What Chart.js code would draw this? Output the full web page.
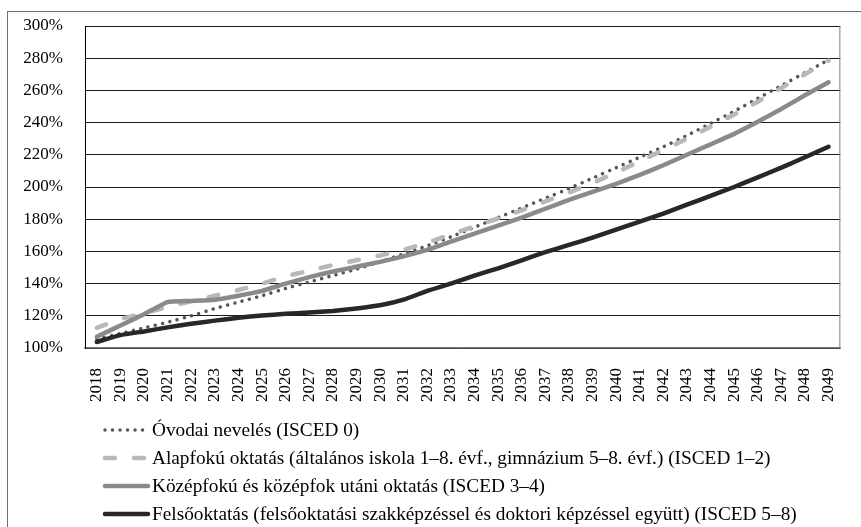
<!DOCTYPE html>
<html>
<head>
<meta charset="utf-8">
<script src="https://cdn.jsdelivr.net/npm/chart.js@4.4.0/dist/chart.umd.min.js"></script>
<style>
    body { margin: 0; width: 861px; height: 527px; overflow: hidden; background: #fff; position: relative; }
    #frame { position: absolute; left: 7px; top: 11px; width: 900px; height: 600px; border: 1px solid #6e6e6e; }
    #chart { position: absolute; left: 0; top: 0; }
    #legend { position: absolute; left: 102px; top: 416px; font-family: 'Liberation Serif', serif; font-size: 19.3px; color: #000; }
    .row { height: 28px; display: flex; align-items: center; white-space: nowrap; }
    .row svg { width: 50px; height: 10px; flex: none; }
</style>
</head>
<body>
<div id="frame"></div>
<canvas id="chart" width="861" height="527"></canvas>
<div id="legend"></div>
<script>
    const years = ['2018', '2019', '2020', '2021', '2022', '2023', '2024', '2025', '2026', '2027', '2028',
        '2029', '2030', '2031', '2032', '2033', '2034', '2035', '2036', '2037', '2038', '2039', '2040',
        '2041', '2042', '2043', '2044', '2045', '2046', '2047', '2048', '2049'];

    const ovodai = [105.5, 109, 112.5, 116, 120, 124.5, 128.5, 132.5, 137, 141, 145, 149, 153.5, 158.5,
        163.5, 169, 175, 181, 187, 193, 199, 205.5, 212, 218.5, 225, 232, 239.5, 247, 255, 263, 271, 279];
    const alapfoku = [112.5, 118, 121.5, 125.5, 129, 132.5, 136, 140, 144.5, 148, 151.5, 154.5, 157.5, 161,
        165.5, 170.5, 175.5, 180.5, 185.5, 191, 196.5, 202.5, 209, 216, 223, 230, 237.5, 245, 253, 261.5, 270, 278.5];
    const kozepfoku = [107, 114, 121, 128.5, 129.2, 130, 132.5, 135.5, 140, 144, 147.5, 150.5, 153.5, 157,
        161, 166, 171, 176, 181, 186.5, 192, 197, 202, 207.5, 213.5, 220, 226.5, 233, 240.5, 248.5, 257, 265];
    const felso = [103.8, 108, 110.3, 112.8, 115, 117, 118.8, 120.2, 121.2, 122, 123, 124.5, 126.5, 130,
        135.5, 140, 145, 149.5, 154.5, 159.5, 164, 168.5, 173.5, 178.5, 183.5, 189, 194.5, 200, 206, 212, 218.5, 225];

    const names = [
        'Óvodai nevelés (ISCED 0)',
        'Alapfokú oktatás (általános iskola 1–8. évf., gimnázium 5–8. évf.) (ISCED 1–2)',
        'Középfokú és középfok utáni oktatás (ISCED 3–4)',
        'Felsőoktatás (felsőoktatási szakképzéssel és doktori képzéssel együtt) (ISCED 5–8)'
    ];

    const styles = [
        {color: '#555555', width: 3.5, dash: [0.01, 7.5]},
        {color: '#b8b8b8', width: 4.5, dash: [10, 19]},
        {color: '#8a8a8a', width: 4.5, dash: []},
        {color: '#282828', width: 4.5, dash: []}
    ];

    const series = [ovodai, alapfoku, kozepfoku, felso];

    const frameRight = {
        id: 'frameRight',
        afterDraw(chart) {
            const {ctx, chartArea} = chart;
            ctx.save();
            ctx.strokeStyle = '#808080';
            ctx.lineWidth = 1;
            ctx.beginPath();
            ctx.moveTo(chartArea.right - 0.5, chartArea.top);
            ctx.lineTo(chartArea.right - 0.5, chartArea.bottom);
            ctx.stroke();
            ctx.restore();
        }
    };

    new Chart(document.getElementById('chart'), {
        type: 'line',
        data: {
            labels: years,
            datasets: series.map((d, i) => ({
                label: names[i],
                data: d,
                borderColor: styles[i].color,
                borderWidth: styles[i].width,
                borderDash: styles[i].dash,
                borderCapStyle: 'round',
                borderJoinStyle: 'round',
                pointRadius: 0,
                tension: 0.15,
                fill: false
            })).reverse()
        },
        options: {
            responsive: false,
            animation: false,
            devicePixelRatio: 1,
            layout: {padding: {left: 0, right: 3, top: 26, bottom: 119}},
            plugins: {
                legend: {display: false},
                tooltip: {enabled: false}
            },
            scales: {
                x: {
                    offset: true,
                    grid: {display: false},
                    border: {display: true, color: '#7a7a7a', width: 1.5},
                    ticks: {
                        minRotation: 90,
                        maxRotation: 90,
                        autoSkip: false,
                        padding: 12,
                        color: '#000',
                        font: {family: 'Liberation Serif', size: 17}
                    },
                    afterFit(scale) {
                        scale.height = 60;
                        scale.paddingTop = 0;
                    }
                },
                y: {
                    min: 100,
                    max: 300,
                    grid: {color: '#1a1a1a', lineWidth: 1, drawTicks: false},
                    border: {display: true, color: '#000', width: 1},
                    ticks: {
                        stepSize: 20,
                        padding: 22,
                        color: '#000',
                        font: {family: 'Liberation Serif', size: 17},
                        callback: v => v + '%'
                    },
                    afterFit(scale) {
                        scale.width = 85;
                        scale.paddingTop = 0;
                    }
                }
            }
        },
        plugins: [frameRight]
    });

    // legend with line samples
    const legend = document.getElementById('legend');
    names.forEach((name, i) => {
        const s = styles[i];
        const row = document.createElement('div');
        row.className = 'row';
        row.innerHTML = '<svg viewBox="0 0 50 10"><line x1="3" y1="5" x2="46" y2="5" stroke="' + s.color +
            '" stroke-width="' + s.width + '" stroke-linecap="round"' +
            (s.dash.length ? ' stroke-dasharray="' + s.dash.join(' ') + '"' : '') + '/></svg><span>' + name + '</span>';
        legend.appendChild(row);
    });
</script>
</body>
</html>
